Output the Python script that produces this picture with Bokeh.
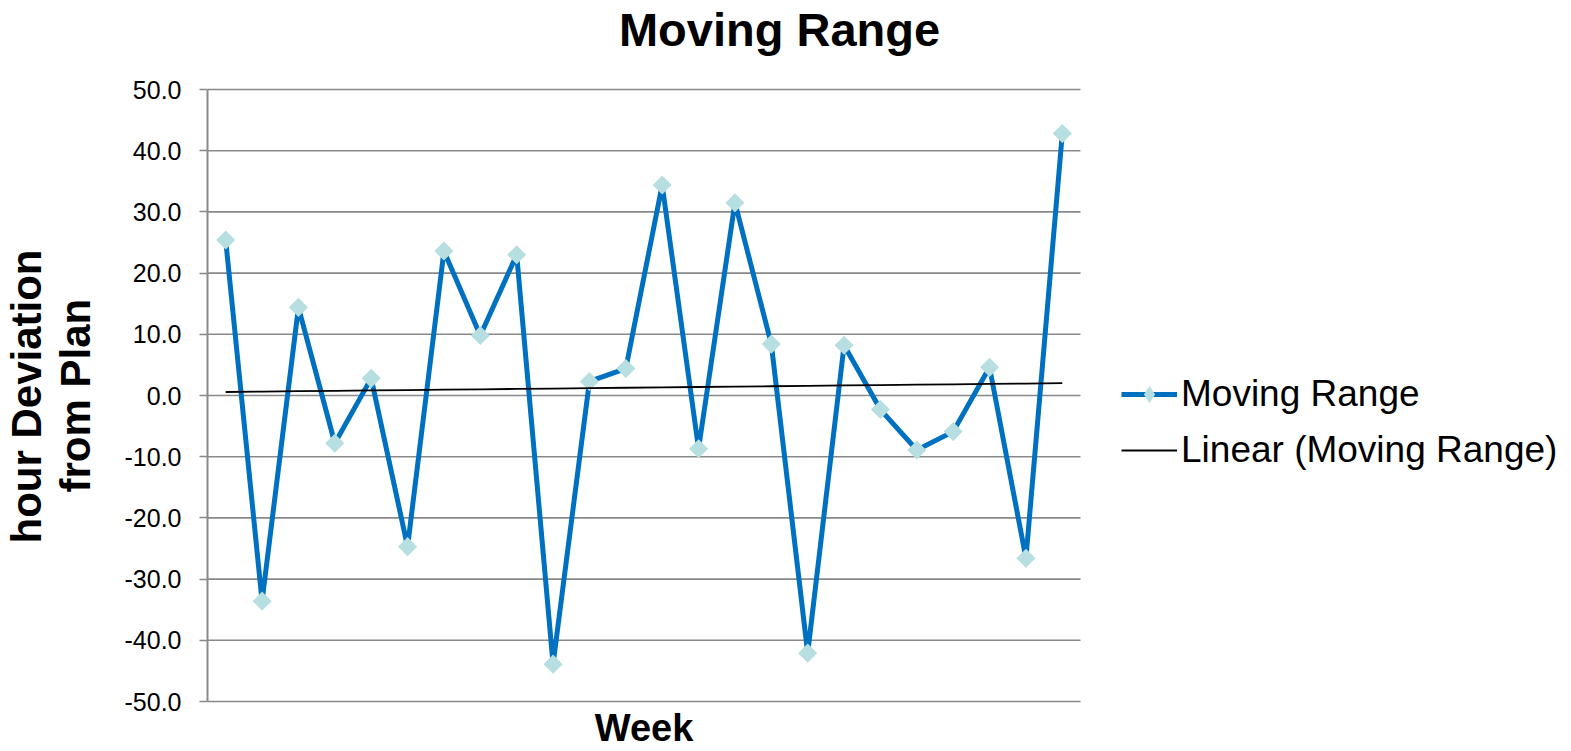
import numpy as np
from bokeh.plotting import figure
from bokeh.models import (Legend, LegendItem, Label, Title, PrintfTickFormatter,
                          FixedTicker, ColumnDataSource, Range1d)
from bokeh.embed import file_html
from bokeh.resources import INLINE

# ---------------- data ----------------
weeks = list(range(1, 25))
moving_range = [25.4, -33.6, 14.4, -7.8, 2.8, -24.7, 23.6, 9.8, 23.0, -43.9,
                2.3, 4.4, 34.4, -8.7, 31.5, 8.4, -42.1, 8.2, -2.3, -8.9,
                -5.9, 4.6, -26.6, 42.8]
y_ticks = [-50, -40, -30, -20, -10, 0, 10, 20, 30, 40, 50]
title_text = "Moving Range"
y_label_lines = ["hour Deviation", "from Plan"]
x_label = "Week"
series_name = "Moving Range"
trend_name = "Linear (Moving Range)"

# linear trendline (least squares, as Excel does)
slope, intercept = np.polyfit(weeks, moving_range, 1)
trend = [intercept + slope * w for w in weeks]

FONT = "Liberation Sans"
BLUE = "#0070C0"
MARKER = "#B7DEE0"
GRID = "#898989"

# ---------------- layout ----------------
W, H = 1568, 750
LEFT = 207                        # plot-area left edge (px)
AREA_W = 873                      # plot-area width (px)
AREA_TOP, AREA_BOTTOM = 89, 701   # plot-area top / bottom (px)
x_lo, x_hi = 0.5, len(weeks) + 0.5
y_lo, y_hi = y_ticks[0], y_ticks[-1]
# the frame fills the canvas right of the y axis, so that title, legend and
# x title (drawn inside it) are not clipped
px_per_x = AREA_W / (x_hi - x_lo)
px_per_y = (AREA_BOTTOM - AREA_TOP) / (y_hi - y_lo)
x_end = x_lo + (W - LEFT) / px_per_x
y_end = y_hi + AREA_TOP / px_per_y
y_start = y_lo - (H - AREA_BOTTOM) / px_per_y

p = figure(width=W, height=H, output_backend="svg", toolbar_location=None,
           x_range=Range1d(x_lo, x_end), y_range=Range1d(y_start, y_end),
           x_axis_location=None,
           min_border_left=LEFT, min_border_right=0,
           min_border_top=0, min_border_bottom=0)
p.outline_line_color = None
p.background_fill_color = "white"
p.border_fill_color = "white"
p.xgrid.visible = False
p.ygrid.visible = False

# y axis
p.yaxis.bounds = (y_lo, y_hi)
p.yaxis.ticker = FixedTicker(ticks=y_ticks)
p.yaxis.formatter = PrintfTickFormatter(format="%.1f")
p.yaxis.major_label_text_font = FONT
p.yaxis.major_label_text_font_size = "25px"
p.yaxis.major_label_text_color = "black"
p.yaxis.major_tick_out = 8
p.yaxis.major_tick_in = 0
p.yaxis.minor_tick_out = 0
p.yaxis.minor_tick_in = 0
p.yaxis.major_tick_line_color = GRID
p.yaxis.major_tick_line_width = 1.6
p.yaxis.axis_line_color = GRID
p.yaxis.axis_line_width = 2
p.yaxis.major_label_standoff = 18
# blank axis label only reserves room between tick labels and the y title
p.yaxis.axis_label = " "
p.yaxis.axis_label_text_font_size = "10px"
p.yaxis.axis_label_standoff = 9

# y title: two lines, each a Title in the left panel
for txt, start in zip(reversed(y_label_lines), [492, 543]):
    p.add_layout(Title(text=txt, align="left", offset=H - start, standoff=0,
                       text_font=FONT, text_font_size="42px",
                       text_font_style="bold", text_color="black"), "left")

# horizontal gridlines (and bottom axis line) across the plot area
p.segment(x0=x_lo, x1=x_hi, y0=y_ticks, y1=y_ticks, line_color=GRID,
          line_width=1.6, level="underlay")

src = ColumnDataSource(data=dict(week=weeks, mr=moving_range, trend=trend))

line_r = p.line("week", "mr", source=src, line_color=BLUE, line_width=5,
                line_join="round")
# diamond used for the legend symbol (hidden under the plot markers)
leg_marker = p.scatter("week", "mr", source=src, marker="diamond", size=18,
                       fill_color=MARKER, line_color=None)
pts_r = p.scatter("week", "mr", source=src, marker="square", size=13.5,
                  angle=np.pi / 4, fill_color=MARKER, line_color=None)
trend_r = p.line("week", "trend", source=src, line_color="black", line_width=1.8)

legend = Legend(items=[
    LegendItem(label=series_name, renderers=[line_r, leg_marker]),
    LegendItem(label=trend_name, renderers=[trend_r]),
], location=(1121 - LEFT, H - 471), orientation="vertical", padding=0,
    margin=0, spacing=14, glyph_width=56, glyph_height=42, label_height=42,
    label_standoff=4, label_text_font=FONT, label_text_font_size="37px",
    label_text_color="black", border_line_alpha=0, background_fill_alpha=0)
p.add_layout(legend)

# chart title (baseline at y=45 px)
p.add_layout(Label(x=779 - LEFT, y=H - (45 - 0.3465 * 47), x_units="screen",
                   y_units="screen", text=title_text, text_font=FONT,
                   text_font_size="47px", text_font_style="bold",
                   text_align="center", text_baseline="middle",
                   text_color="black"))
# x title (baseline at y=741 px), centred on the plot area
p.add_layout(Label(x=(x_lo + x_hi) / 2, y=H - (741 - 0.3465 * 38), x_units="data",
                   y_units="screen", text=x_label, text_font=FONT,
                   text_font_size="38px", text_font_style="bold",
                   text_align="center", text_baseline="middle",
                   text_color="black"))

open("out.html", "w").write(file_html(p, INLINE))
